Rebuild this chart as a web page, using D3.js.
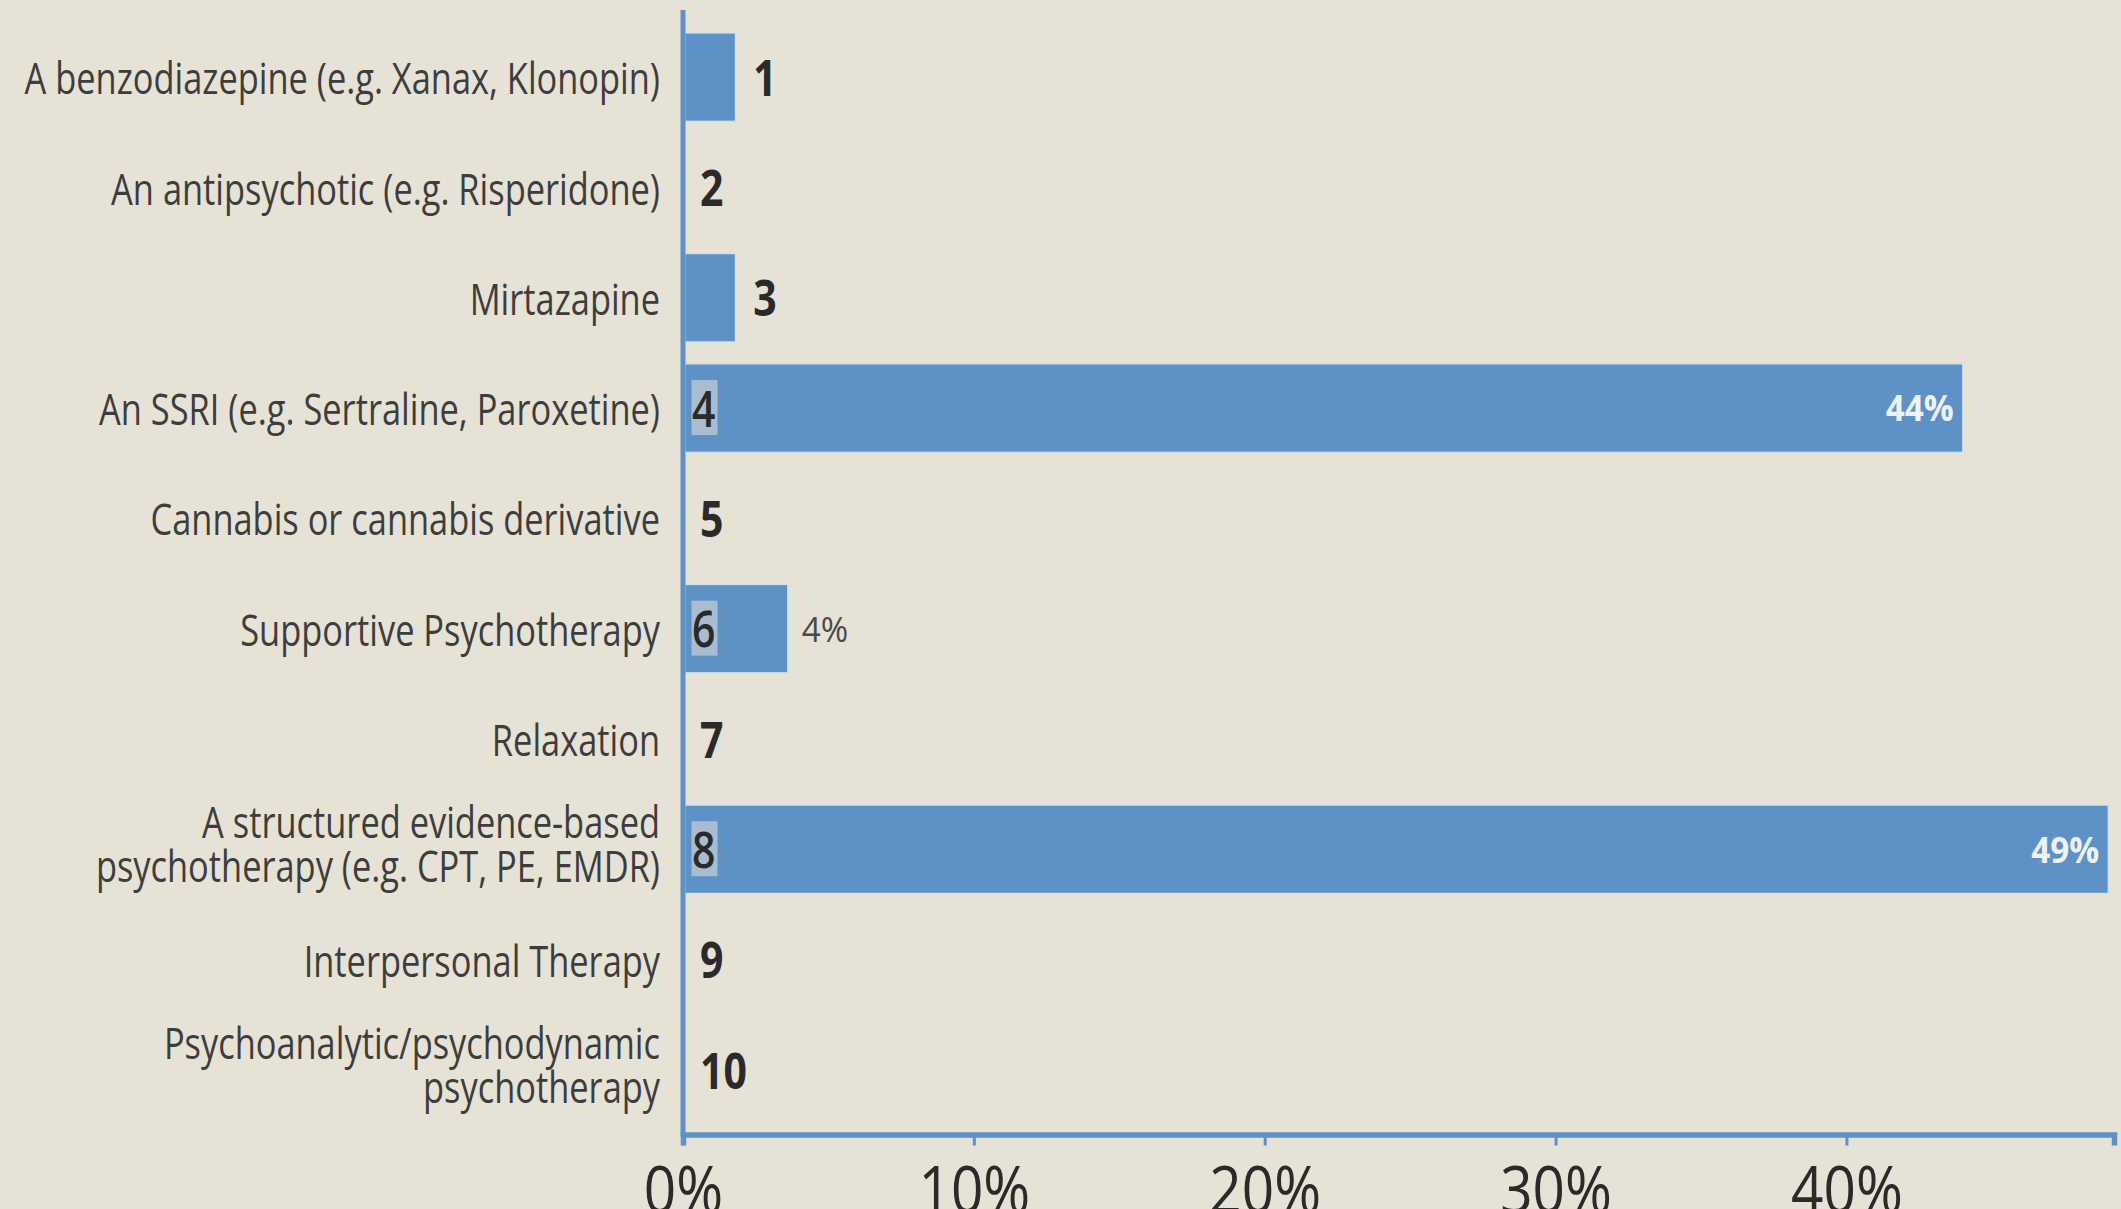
<!DOCTYPE html>
<html>
<head>
<meta charset="utf-8">
<script src="https://cdn.jsdelivr.net/npm/d3@7"></script>
<style>
  html, body { margin: 0; padding: 0; background: #e6e2d5; }
  svg { display: block; }
</style>
</head>
<body>
<svg id="chart" width="2121" height="1209"></svg>
<script>
// ---- data ----
const categories = [
  ["A benzodiazepine (e.g. Xanax, Klonopin)"],
  ["An antipsychotic (e.g. Risperidone)"],
  ["Mirtazapine"],
  ["An SSRI (e.g. Sertraline, Paroxetine)"],
  ["Cannabis or cannabis derivative"],
  ["Supportive Psychotherapy"],
  ["Relaxation"],
  ["A structured evidence-based", "psychotherapy (e.g. CPT, PE, EMDR)"],
  ["Interpersonal Therapy"],
  ["Psychoanalytic/psychodynamic", "psychotherapy"]
];
const rankLabels = ["1", "2", "3", "4", "5", "6", "7", "8", "9", "10"];
const values = [1.8, 0, 1.8, 44, 0, 3.6, 0, 49, 0, 0];
const valueLabels = ["", "", "", "44%", "", "4%", "", "49%", "", ""];
const tickValues = [0, 10, 20, 30, 40];
const tickLabels = ["0%", "10%", "20%", "30%", "40%"];

// ---- layout ----
const W = 2121, H = 1209;
const x0 = 683, x1 = 2114;
const yTop = 22, yBot = 1125, axisY = 1134.5;
const BLUE = "#5e91c6";
const TEXT = "#3d3d3d";
const SX = 0.80;

const svg = d3.select("#chart");
svg.append("rect").attr("width", W).attr("height", H).attr("fill", "#e6e2d5");

const x = d3.scaleLinear().domain([0, 49.2]).range([x0, x1]);
const y = d3.scaleBand().domain(rankLabels).range([yTop, yBot]).paddingInner(0.2).paddingOuter(0.1);

// bars
svg.append("g").selectAll("rect")
  .data(values.map((v, i) => ({ v, i })).filter(d => d.v > 0))
  .join("rect")
  .attr("x", x(0) + 2)
  .attr("y", d => y(rankLabels[d.i]))
  .attr("width", d => x(d.v) - x(0) - 2)
  .attr("height", y.bandwidth())
  .attr("fill", BLUE)
  .attr("stroke", "#cfdfec")
  .attr("stroke-width", 1.2);

// category labels
const catG = svg.append("g");
categories.forEach((lines, i) => {
  const cy = y(rankLabels[i]) + y.bandwidth() / 2;
  const n = lines.length;
  lines.forEach((ln, j) => {
    const ly = cy + (j - (n - 1) / 2) * 44 - (n > 1 ? 6 : 0);
    catG.append("text")
      .attr("transform", `translate(660,${ly}) scale(${SX},1)`)
      .attr("text-anchor", "end")
      .attr("dominant-baseline", "central")
      .attr("font-family", "Open Sans, sans-serif")
      .attr("font-size", 43)
      .attr("fill", TEXT)
      .text(ln);
  });
});

// rank number labels
const rankG = svg.append("g");
values.forEach((v, i) => {
  const cy = y(rankLabels[i]) + y.bandwidth() / 2;
  const inside = v > 3;
  let lx;
  if (v === 0) lx = x(0) + 17;
  else if (inside) lx = x(0) + 9;
  else lx = x(v) + 18;
  if (inside) {
    rankG.append("rect")
      .attr("x", x(0) + 8.5)
      .attr("y", cy - 28)
      .attr("width", 26)
      .attr("height", 55)
      .attr("fill", "#a9bdd1");
  }
  rankG.append("text")
    .attr("transform", `translate(${lx},${cy - 1}) scale(0.82,1)`)
    .attr("dominant-baseline", "central")
    .attr("font-family", "Open Sans, sans-serif")
    .attr("font-weight", inside ? 600 : 700)
    .attr("font-size", 50)
    .attr("fill", "#2a2a2a")
    .text(rankLabels[i]);
});

// value labels
const valG = svg.append("g");
values.forEach((v, i) => {
  if (!valueLabels[i]) return;
  const cy = y(rankLabels[i]) + y.bandwidth() / 2;
  const inside = v > 20;
  valG.append("text")
    .attr("transform", `translate(${inside ? x(v) - 9 : x(v) + 14},${cy}) scale(0.95,1)`)
    .attr("text-anchor", inside ? "end" : "start")
    .attr("dominant-baseline", "central")
    .attr("font-family", "Open Sans, sans-serif")
    .attr("font-weight", inside ? 700 : 400)
    .attr("font-size", 35)
    .attr("fill", inside ? "#eef3f8" : "#4a4a4a")
    .text(valueLabels[i]);
});

// axes
const xAxis = d3.axisBottom(x).tickValues(tickValues).tickSize(11).tickFormat((d, i) => tickLabels[i]);
const axG = svg.append("g").attr("transform", `translate(0,${axisY})`).call(xAxis);
axG.select(".domain").attr("stroke", BLUE).attr("stroke-width", 5.5);
axG.selectAll(".tick line").attr("stroke", BLUE).attr("stroke-width", 3);
axG.selectAll(".tick text")
  .attr("fill", "#2a2a2a")
  .attr("font-family", "Open Sans, sans-serif")
  .attr("font-size", 66)
  .attr("font-weight", 400)
  .attr("y", 0)
  .attr("dy", 0)
  .attr("transform", "translate(0,78) scale(0.86,1)");

// vertical axis line
svg.append("line")
  .attr("x1", x(0)).attr("x2", x(0))
  .attr("y1", 10).attr("y2", axisY + 2)
  .attr("stroke", BLUE).attr("stroke-width", 5);
</script>
</body>
</html>
